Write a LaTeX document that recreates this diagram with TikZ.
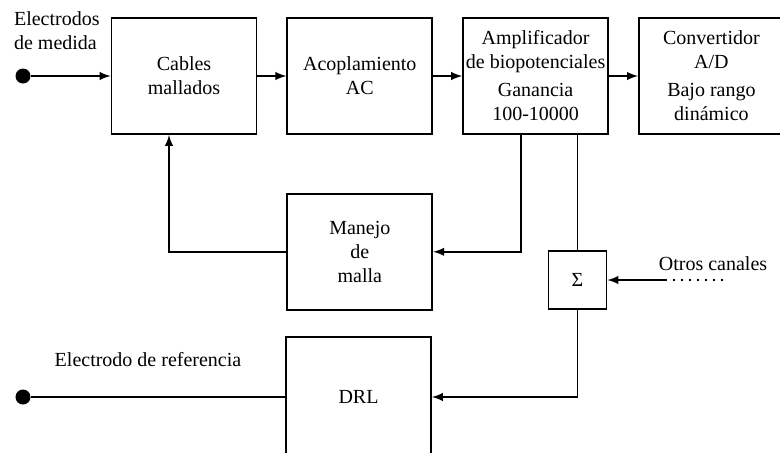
\documentclass[tikz,border=0pt]{standalone}
\usepackage{fontspec}
\setmainfont{Liberation Serif}
\usepackage{tikz}
\usetikzlibrary{arrows, positioning}

\begin{document}
\begin{tikzpicture}[x=0.5pt, y=-0.5pt, font=\fontsize{10}{12}\selectfont,
    node distance=14.5pt,
    bloque/.style={draw, rectangle, line width=0.9pt, minimum width=72.5pt, minimum height=58pt, align=center, inner sep=1pt},
    flecha/.style={-latex, line width=0.9pt},
    linea/.style={line width=0.9pt},
    punto/.style={circle, fill, inner sep=0pt, minimum size=7.5pt}]
    \useasboundingbox (0,0) rectangle (780,452);
    \clip (0,0) rectangle (780,452);

    % cadena principal
    \node[bloque] (cables) at (184,76) {Cables\\mallados};
    \node[bloque, right=of cables] (acopla) {Acoplamiento\\AC};
    \node[bloque, right=of acopla] (amplif) {Amplificador\\de biopotenciales\\[2pt]Ganancia\\100-10000};
    \node[bloque, right=of amplif] (conv) {Convertidor\\A/D\\[2pt]Bajo rango\\dinámico};

    % realimentacion
    \node[bloque, below=29pt of acopla] (manejo) {Manejo\\de\\malla};
    \node[draw, rectangle, line width=0.9pt, minimum size=29pt] (sigma) at (577.5,280) {Σ};
    \node[bloque, minimum height=60pt] (drl) at (358.5,397) {DRL};

    % electrodos
    \node[punto] (elec) at (23,76) {};
    \node[anchor=west, align=left] (elecTxt) at (7,31) {Electrodos\\de medida};
    \node[punto] (ref) at (23,397) {};
    \node (refTxt) at (148,360) {Electrodo de referencia};
    \node (otrosTxt) at (713,264) {Otros canales};
    \coordinate (otros) at (665,280);

    \draw[flecha] (elec) -- (cables.west);
    \draw[flecha] (cables) -- (acopla);
    \draw[flecha] (acopla) -- (amplif);
    \draw[flecha] (amplif) -- (conv);
    \draw[flecha] ([xshift=-7.25pt]amplif.south) |- (manejo.east);
    \draw[flecha] (manejo.west) -| ([xshift=-7.5pt]cables.south);
    \draw[linea] (sigma.north |- amplif.south) -- (sigma.north);
    \draw[flecha] (otros) -- (sigma.east);
    \draw[line width=0.9pt, dash pattern=on 0.9pt off 3.1pt] (otros) -- ++(58,0);
    \draw[flecha] (sigma.south) |- (drl.east);
    \draw[linea] (ref) -- (drl.west);
\end{tikzpicture}
\end{document}
